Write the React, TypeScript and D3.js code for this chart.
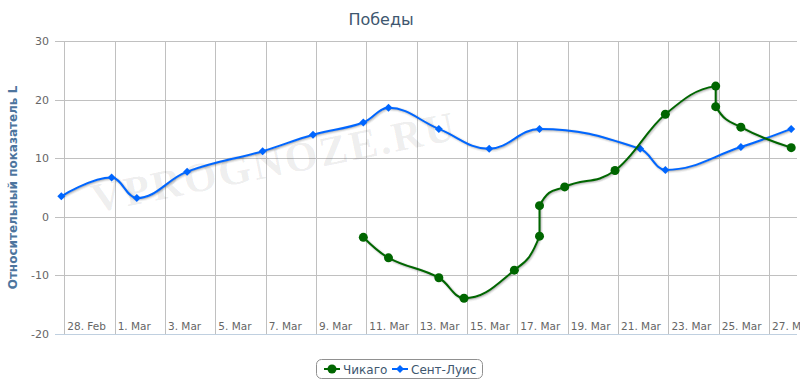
import React, { useEffect, useRef } from "react";
import * as d3 from "d3";

// x axis: days, gridline every second day
const tickDays = [0, 2, 4, 6, 8, 10, 12, 14, 16, 18, 20, 22, 24, 26, 28];
const tickLabels = ["28. Feb", "1. Mar", "3. Mar", "5. Mar", "7. Mar", "9. Mar", "11. Mar", "13. Mar",
  "15. Mar", "17. Mar", "19. Mar", "21. Mar", "23. Mar", "25. Mar", "27. Mar"];
const yTicks = [-20, -10, 0, 10, 20, 30];

// games are played in the evening, a few hours before midnight of the tick date
const GAME_OFFSET = -0.12;

const stlDays = [0, 2, 3, 5, 8, 10, 12, 13, 15, 17, 19, 23, 24, 27, 29];
const stlValues = [3.5, 6.7, 3.2, 7.7, 11.2, 14.0, 16.1, 18.6, 15.0, 11.6, 15.0, 11.6, 8.0, 11.9, 15.0];

const chiDays = [12, 13, 15, 16, 18, 19, 19, 20, 22, 24, 26, 26, 27, 29];
const chiValues = [-3.5, -7.0, -10.4, -13.9, -9.1, -3.3, 1.9, 5.1, 7.9, 17.5, 22.3, 18.8, 15.3, 11.8];

const seriesNames = ["Чикаго", "Сент-Луис"];
const seriesColors = ["#006600", "#0066FF"];

// spline like the old highcharts one (smoothing 1.5)
class SplineCurve {
  _ctx: any;
  _pts: number[][] = [];
  constructor(ctx: any) { this._ctx = ctx; }
  areaStart() {}
  areaEnd() {}
  lineStart() { this._pts = []; }
  point(x: number, y: number) { this._pts.push([+x, +y]); }
  lineEnd() {
    const p = this._pts;
    const ctx = this._ctx;
    const sm = 1.5, den = sm + 1;
    const right: (number[] | null)[] = p.map(() => null);
    for (let i = 0; i < p.length; i++) {
      const [x, y] = p[i];
      let lcx = x, lcy = y;
      if (i > 0 && i < p.length - 1) {
        const [lx, ly] = p[i - 1];
        const [nx, ny] = p[i + 1];
        lcx = (sm * x + lx) / den;
        lcy = (sm * y + ly) / den;
        const rcx = (sm * x + nx) / den;
        let rcy = (sm * y + ny) / den;
        const corr = rcx - lcx !== 0 ? ((rcy - lcy) * (rcx - x)) / (rcx - lcx) + y - rcy : 0;
        lcy += corr;
        rcy += corr;
        if (lcy > ly && lcy > y) { lcy = Math.max(ly, y); rcy = 2 * y - lcy; }
        else if (lcy < ly && lcy < y) { lcy = Math.min(ly, y); rcy = 2 * y - lcy; }
        if (rcy > ny && rcy > y) { rcy = Math.max(ny, y); lcy = 2 * y - rcy; }
        else if (rcy < ny && rcy < y) { rcy = Math.min(ny, y); lcy = 2 * y - rcy; }
        right[i] = [rcx, rcy];
      }
      if (i === 0) ctx.moveTo(x, y);
      else {
        const rc = right[i - 1] || p[i - 1];
        ctx.bezierCurveTo(rc[0], rc[1], lcx, lcy, x, y);
      }
    }
  }
}
const curveSpline: any = (ctx: any) => new SplineCurve(ctx);

function Chart() {
  const svgRef = useRef<SVGSVGElement>(null);

  useEffect(() => {
    if (!svgRef.current) return;
    const width = 800;
    const height = 386;
    const plot = { left: 55, right: 797, top: 41, bottom: 334 };
    const font = "'DejaVu Sans', Verdana, sans-serif";

    const svg = d3.select(svgRef.current);
    svg.selectAll("*").remove();
    svg.attr("width", width).attr("height", height).style("font-family", font);

    const x = d3.scaleLinear().domain([-0.37, 29.11]).range([plot.left, plot.right]);
    const y = d3.scaleLinear().domain([-20, 30]).range([plot.bottom, plot.top]);

    svg.append("rect").attr("width", width).attr("height", height).attr("fill", "#fff");

    // grid
    svg.append("g").selectAll("line").data(yTicks).join("line")
      .attr("x1", plot.left).attr("x2", plot.right)
      .attr("y1", d => Math.round(y(d)) + 0.5).attr("y2", d => Math.round(y(d)) + 0.5)
      .attr("stroke", "#C0C0C0").attr("stroke-width", 1);
    svg.append("g").selectAll("line").data(tickDays).join("line")
      .attr("x1", d => Math.round(x(d)) + 0.5).attr("x2", d => Math.round(x(d)) + 0.5)
      .attr("y1", plot.top).attr("y2", plot.bottom)
      .attr("stroke", "#C0C0C0").attr("stroke-width", 1);

    // watermark
    svg.append("text")
      .attr("transform", "translate(277,176) rotate(-11.5)")
      .attr("text-anchor", "middle")
      .attr("font-family", "'Liberation Serif', serif")
      .attr("font-weight", "bold")
      .attr("font-size", 42)
      .attr("letter-spacing", 2.5)
      .attr("fill", "#000")
      .attr("fill-opacity", 0.075)
      .text("VPROGNOZE.RU");

    // x axis line
    svg.append("line")
      .attr("x1", plot.left).attr("x2", plot.right)
      .attr("y1", plot.bottom + 0.5).attr("y2", plot.bottom + 0.5)
      .attr("stroke", "#C0D0E0");

    // y labels
    svg.append("g").selectAll("text").data(yTicks).join("text")
      .attr("x", plot.left - 6).attr("y", d => y(d) + 4)
      .attr("text-anchor", "end").attr("font-size", 11).attr("fill", "#666")
      .text(d => d);

    // x labels
    svg.append("g").selectAll("text").data(tickDays).join("text")
      .attr("x", d => x(d) + 3).attr("y", plot.bottom - 4)
      .attr("font-size", 10.5).attr("fill", "#666")
      .text((d, i) => tickLabels[i]);

    // y title
    svg.append("text")
      .attr("transform", `translate(17,${(plot.top + plot.bottom) / 2}) rotate(-90)`)
      .attr("text-anchor", "middle").attr("font-size", 12).attr("font-weight", "bold")
      .attr("fill", "#4D759E")
      .text("Относительный показатель L");

    // title
    svg.append("text")
      .attr("x", 381).attr("y", 25).attr("text-anchor", "middle")
      .attr("font-size", 16).attr("fill", "#3E576F")
      .text("Победы");

    const line = d3.line<number[]>().x(d => x(d[0])).y(d => y(d[1])).curve(curveSpline);
    const series = [
      { pts: chiDays.map((d, i) => [d + GAME_OFFSET, chiValues[i]]), color: seriesColors[0], sym: "circle" },
      { pts: stlDays.map((d, i) => [d + GAME_OFFSET, stlValues[i]]), color: seriesColors[1], sym: "diamond" },
    ];

    const diamond = (cx: number, cy: number, r: number) =>
      `M${cx},${cy - r}L${cx + r},${cy}L${cx},${cy + r}L${cx - r},${cy}Z`;

    series.slice().reverse().forEach(s => {
      const g = svg.append("g");
      [1, 2, 3].forEach(i => {
        g.append("path").attr("d", line(s.pts))
          .attr("fill", "none").attr("stroke", "#000")
          .attr("stroke-opacity", 0.05 * i).attr("stroke-width", 7 - 2 * i)
          .attr("transform", "translate(1,1)");
      });
      g.append("path").attr("d", line(s.pts))
        .attr("fill", "none").attr("stroke", s.color).attr("stroke-width", 2);
      if (s.sym === "circle") {
        g.selectAll("circle").data(s.pts).join("circle")
          .attr("cx", d => x(d[0])).attr("cy", d => y(d[1])).attr("r", 4.5)
          .attr("fill", s.color);
      } else {
        g.selectAll("path.m").data(s.pts).join("path").attr("class", "m")
          .attr("d", d => diamond(x(d[0]), y(d[1]), 4))
          .attr("fill", s.color);
      }
    });

    // legend
    const lg = svg.append("g");
    lg.append("rect")
      .attr("x", 316.5).attr("y", 359.5).attr("width", 166).attr("height", 19)
      .attr("rx", 5).attr("fill", "#fff").attr("stroke", "#909090");
    const itemX = [324, 392];
    series.forEach((s, i) => {
      const cx = itemX[i];
      lg.append("line").attr("x1", cx).attr("x2", cx + 16)
        .attr("y1", 369).attr("y2", 369).attr("stroke", s.color).attr("stroke-width", 2);
      if (s.sym === "circle") {
        lg.append("circle").attr("cx", cx + 8).attr("cy", 369).attr("r", 4.5).attr("fill", s.color);
      } else {
        lg.append("path").attr("d", diamond(cx + 8, 369, 4)).attr("fill", s.color);
      }
      lg.append("text").attr("x", cx + 19).attr("y", 373.5)
        .attr("font-size", 12).attr("fill", "#3E576F")
        .text(seriesNames[i]);
    });
  }, []);

  return <svg ref={svgRef} style={{ display: "block" }}></svg>;
}

export default function App() {
  useEffect(() => {
    document.body.style.margin = "0";
  }, []);
  return <Chart />;
}
